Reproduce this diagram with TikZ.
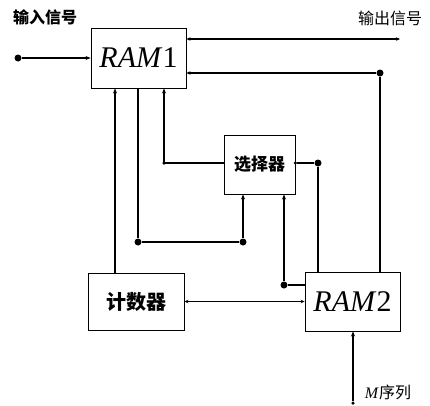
\documentclass[tikz,border=0pt]{standalone}
\usepackage{fontspec}
\setmainfont{Liberation Serif}
\newfontfamily\cjk{Noto Sans CJK SC}
\usetikzlibrary{arrows.meta}
\begin{document}
\begin{tikzpicture}[x=1pt,y=-1pt,
  box/.style={draw,line width=0.9pt,inner sep=0pt},
  wire/.style={line width=1.1pt},
  tip/.style={-{Stealth[length=5pt,width=4pt]}},
  dtip/.style={{Stealth[length=4pt,width=3.5pt]}-{Stealth[length=4pt,width=3.5pt]}},
  bigdot/.style={circle,fill,inner sep=0pt,minimum size=7pt},
  smalldot/.style={circle,fill,inner sep=0pt,minimum size=3.5pt},
  cjklabel/.style={font=\cjk\fontsize{16}{16}\selectfont}]
\useasboundingbox (0,0) rectangle (430,405);
% boxes
\node[box,minimum width=95pt,minimum height=60pt] (ram1) at (138.5,58) {\fontsize{30}{30}\selectfont\textit{RAM}1};
\node[box,minimum width=71pt,minimum height=59pt] (sel) at (259.5,164.5) {\cjk\bfseries\fontsize{17}{17}\selectfont 选择器};
\node[box,minimum width=96pt,minimum height=57pt] (cnt) at (136,301.5) {\cjk\bfseries\fontsize{20}{20}\selectfont 计数器};
\node[box,minimum width=95pt,minimum height=59pt] (ram2) at (352.5,301.5) {\fontsize{30}{30}\selectfont\textit{RAM}2};
% labels
\node[cjklabel,font=\cjk\bfseries\fontsize{16}{16}\selectfont] (lin) at (45,17) {输入信号};
\node[cjklabel] (lout) at (390,18) {输出信号};
\node[font=\fontsize{16}{16}\selectfont] (lm) at (388,392) {\textit{M}\cjk 序列};
% coordinates
\node[bigdot] (din) at (18,58) {};
\coordinate (out) at (400,39);
\node[bigdot] (d380) at (380,73) {};
\coordinate (x115) at (115,0);
\coordinate (x138) at (138,0);
\coordinate (x164) at (164,0);
\node[bigdot] (d138) at (138,242) {};
\node[bigdot] (d243) at (243,242) {};
\coordinate (c164) at (164,163);
\node[bigdot] (d318) at (318,163) {};
\node[bigdot] (d284) at (284,285) {};
\node[smalldot] (mbot) at (353,403) {};
% wires
\draw[wire,tip] (din) -- (ram1.west);
\draw[wire,dtip] (ram1.east |- out) -- (out);
\draw[wire,-{Stealth[length=4pt,width=3.5pt]}] (d380) -- (ram1.east |- d380);
\draw[wire] (d380) -- (ram2.north -| d380);
\draw[wire,tip] (x115 |- cnt.north) -- (x115 |- ram1.south);
\draw[wire] (x138 |- ram1.south) -- (d138) -- (d243);
\draw[wire,tip] (d243) -- (sel.south -| d243);
\draw[wire,tip] (sel.west |- c164) -- (c164) -- (x164 |- ram1.south);
\node[smalldot] at (c164) {};
\node[smalldot] (sdot) at (sel.east |- d318) {};
\draw[wire] (sdot) -- (d318) -- (ram2.north -| d318);
\draw[wire] (ram2.west |- d284) -- (d284);
\draw[wire,tip] (d284) -- (sel.south -| d284);
\draw[wire,dtip] (cnt.east) -- (ram2.west);
\draw[wire,tip] (mbot) -- (ram2.south -| mbot);
\end{tikzpicture}
\end{document}
